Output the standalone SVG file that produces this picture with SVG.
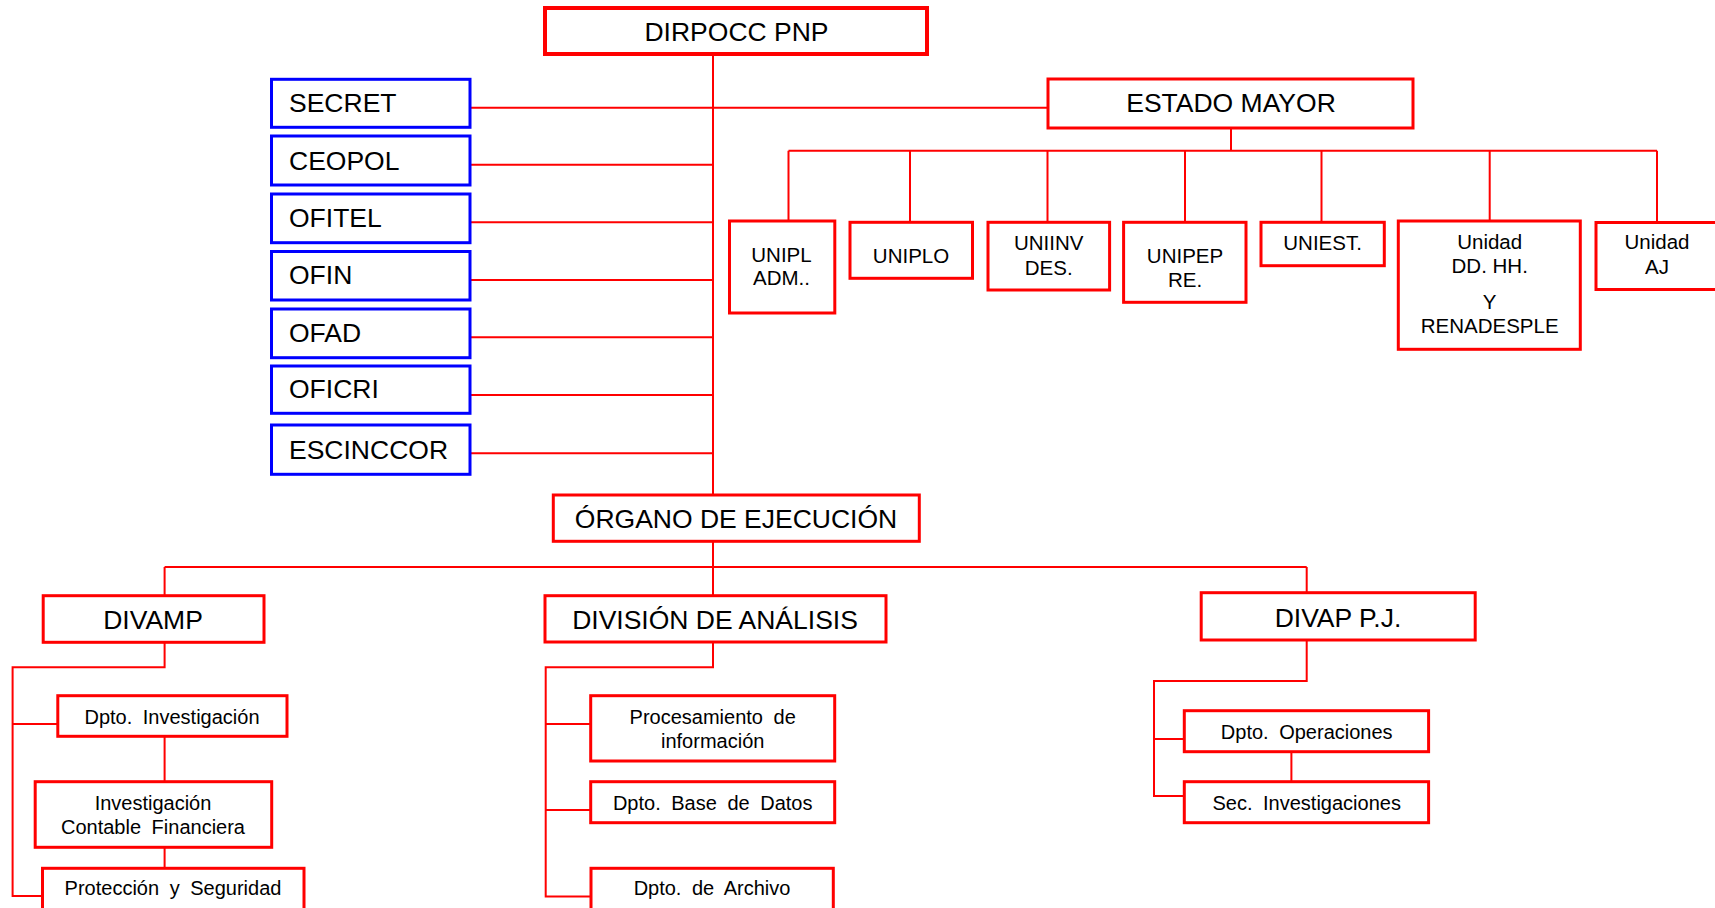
<svg xmlns="http://www.w3.org/2000/svg" width="1715" height="908" viewBox="0 0 1715 908">
<style>
.bg{fill:#ffffff}
.rb{fill:#ffffff;stroke:#ff0000;stroke-width:3}
.rb4{fill:#ffffff;stroke:#ff0000;stroke-width:4}
.bb{fill:#ffffff;stroke:#0000ff;stroke-width:3}
.ln{fill:none;stroke:#ff0000;stroke-width:2}
text{font-family:"Liberation Sans",Arial,sans-serif;fill:#000000}
.big{font-size:26.5px}
.bigc{font-size:26.5px;text-anchor:middle}
.unit{font-size:20.5px;text-anchor:middle}
.sm{font-size:20px;text-anchor:middle;word-spacing:5px}
</style>
<rect class="bg" x="0" y="0" width="1715" height="908"/>
<g id="connectors">
<path class="ln" d="M713,54 V567"/>
<path class="ln" d="M470,107.7 H1048"/>
<path class="ln" d="M470,164.7 H713 M470,222.3 H713 M470,280 H713 M470,337.3 H713 M470,395 H713 M470,453.3 H713"/>
<path class="ln" d="M1231,128 V150.7 M788.5,150.7 H1657 M788.5,150.7 V221 M910,150.7 V222.3 M1047.5,150.7 V222.3 M1185,150.7 V222.3 M1321.5,150.7 V222.3 M1489.7,150.7 V221 M1657,150.7 V222.5"/>
<path class="ln" d="M164.6,567 H1306.7 M164.6,567 V595.7 M713,567 V595.7 M1306.7,567 V592.7"/>
<path class="ln" d="M164.6,642.3 V667.3 H12.6 V896 H42.5 M12.6,724 H57.8 M164.6,736.3 V781.7 M164.6,847.3 V868.3"/>
<path class="ln" d="M713,642 V667.3 H545.7 V896.5 H591 M545.7,724 H590.7 M545.7,810 H590.7"/>
<path class="ln" d="M1306.7,640 V681 H1154 V796 H1184.3 M1154,739 H1184.3 M1291.4,751.7 V781.7"/>
</g>
<g id="dirpocc">
<rect class="rb4" x="545" y="8" width="382" height="46"/>
<text class="bigc" x="736.5" y="40.7">DIRPOCC PNP</text>
</g>
<g id="estado-mayor">
<rect class="rb" x="1048" y="79" width="365" height="49"/>
<text class="bigc" x="1231" y="112">ESTADO MAYOR</text>
</g>
<g id="secret">
<rect class="bb" x="271.5" y="79.3" width="198.5" height="48"/>
<text class="big" x="289" y="111.7">SECRET</text>
</g>
<g id="ceopol">
<rect class="bb" x="271.5" y="136" width="198.5" height="49"/>
<text class="big" x="289" y="169.5">CEOPOL</text>
</g>
<g id="ofitel">
<rect class="bb" x="271.5" y="194" width="198.5" height="48.7"/>
<text class="big" x="289" y="226.7">OFITEL</text>
</g>
<g id="ofin">
<rect class="bb" x="271.5" y="251.5" width="198.5" height="48.5"/>
<text class="big" x="289" y="284">OFIN</text>
</g>
<g id="ofad">
<rect class="bb" x="271.5" y="309" width="198.5" height="48.7"/>
<text class="big" x="289" y="341.7">OFAD</text>
</g>
<g id="oficri">
<rect class="bb" x="271.5" y="366" width="198.5" height="47.3"/>
<text class="big" x="289" y="398.3">OFICRI</text>
</g>
<g id="escinccor">
<rect class="bb" x="271.5" y="425" width="198.5" height="49.3"/>
<text class="big" x="289" y="458.5">ESCINCCOR</text>
</g>
<g id="unipl">
<rect class="rb" x="729.5" y="221" width="105.3" height="92"/>
<text class="unit" x="781.5" y="261.7">UNIPL</text>
<text class="unit" x="781.5" y="285">ADM..</text>
</g>
<g id="uniplo">
<rect class="rb" x="850" y="222.3" width="122.5" height="56"/>
<text class="unit" x="911" y="263.3">UNIPLO</text>
</g>
<g id="uniinv">
<rect class="rb" x="988" y="222.3" width="121.6" height="67.7"/>
<text class="unit" x="1048.7" y="250">UNIINV</text>
<text class="unit" x="1048.7" y="275">DES.</text>
</g>
<g id="unipep">
<rect class="rb" x="1123.6" y="222.3" width="122.4" height="80"/>
<text class="unit" x="1185" y="263.3">UNIPEP</text>
<text class="unit" x="1185" y="287.3">RE.</text>
</g>
<g id="uniest">
<rect class="rb" x="1261" y="222.3" width="123.3" height="43.4"/>
<text class="unit" x="1322.6" y="250">UNIEST.</text>
</g>
<g id="unidad-ddhh">
<rect class="rb" x="1398.3" y="221" width="182" height="128.3"/>
<text class="unit" x="1489.7" y="249">Unidad</text>
<text class="unit" x="1489.7" y="272.7">DD. HH.</text>
<text class="unit" x="1489.7" y="309.3">Y</text>
<text class="unit" x="1489.7" y="333.3">RENADESPLE</text>
</g>
<g id="unidad-aj">
<rect class="rb" x="1596" y="222.5" width="130" height="67"/>
<text class="unit" x="1657" y="249.3">Unidad</text>
<text class="unit" x="1657" y="274">AJ</text>
</g>
<g id="organo">
<rect class="rb" x="553.3" y="495" width="366" height="46.3"/>
<text class="bigc" x="736" y="527.7">ÓRGANO DE EJECUCIÓN</text>
</g>
<g id="divamp">
<rect class="rb" x="43.2" y="595.7" width="220.8" height="46.6"/>
<text class="bigc" x="153" y="629">DIVAMP</text>
</g>
<g id="dpto-investigacion">
<rect class="rb" x="57.8" y="695.7" width="229.2" height="40.6"/>
<text class="sm" x="172" y="723.5">Dpto. Investigación</text>
</g>
<g id="inv-contable">
<rect class="rb" x="35.2" y="781.7" width="236.5" height="65.6"/>
<text class="sm" x="153" y="810">Investigación</text>
<text class="sm" x="153" y="834">Contable Financiera</text>
</g>
<g id="proteccion">
<rect class="rb" x="42.5" y="868.3" width="261.5" height="50"/>
<text class="sm" x="173" y="895">Protección y Seguridad</text>
</g>
<g id="division-analisis">
<rect class="rb" x="545" y="595.7" width="341" height="46.3"/>
<text class="bigc" x="715" y="629">DIVISIÓN DE ANÁLISIS</text>
</g>
<g id="procesamiento">
<rect class="rb" x="590.7" y="695.7" width="244" height="65.3"/>
<text class="sm" x="712.7" y="724">Procesamiento de</text>
<text class="sm" x="712.7" y="748.3">información</text>
</g>
<g id="base-datos">
<rect class="rb" x="590.7" y="781.7" width="244" height="41"/>
<text class="sm" x="712.7" y="810">Dpto. Base de Datos</text>
</g>
<g id="archivo">
<rect class="rb" x="591" y="868.3" width="242.3" height="50"/>
<text class="sm" x="712" y="895">Dpto. de Archivo</text>
</g>
<g id="divap">
<rect class="rb" x="1201.2" y="592.7" width="274" height="47.3"/>
<text class="bigc" x="1338" y="626.7">DIVAP P.J.</text>
</g>
<g id="dpto-operaciones">
<rect class="rb" x="1184.3" y="710.7" width="244.3" height="41"/>
<text class="sm" x="1306.7" y="739.3">Dpto. Operaciones</text>
</g>
<g id="sec-investigaciones">
<rect class="rb" x="1184.3" y="781.7" width="244.3" height="41"/>
<text class="sm" x="1306.7" y="810">Sec. Investigaciones</text>
</g>
</svg>
